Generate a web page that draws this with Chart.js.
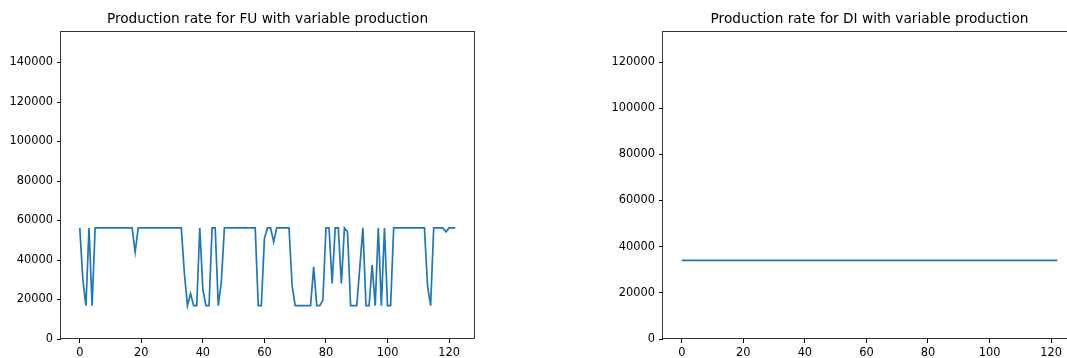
<!DOCTYPE html>
<html>
<head>
<meta charset="utf-8">
<script src="https://cdn.jsdelivr.net/npm/chart.js@4.4.1/dist/chart.umd.min.js"></script>
<style>
    html, body { margin: 0; padding: 0; overflow: hidden; background: #fff; }
    .panel { position: absolute; top: 0; height: 358px; }
    #fuBox { left: 0; width: 533px; }
    #diBox { left: 600px; width: 480px; }
</style>
</head>
<body>
<div class="panel" id="fuBox"><canvas id="fuChart"></canvas></div>
<div class="panel" id="diBox"><canvas id="diChart"></canvas></div>
<script>
// production rate per period, FU line (variable production)
const fuRate = [
    56250, 30000, 16875, 56250, 16875, 56250, 56250, 56250, 56250, 56250,
    56250, 56250, 56250, 56250, 56250, 56250, 56250, 56250, 44000, 56250,
    56250, 56250, 56250, 56250, 56250, 56250, 56250, 56250, 56250, 56250,
    56250, 56250, 56250, 56250, 33000, 16875, 23000, 16875, 16875, 56250,
    25000, 16875, 16875, 56250, 56250, 16875, 29000, 56250, 56250, 56250,
    56250, 56250, 56250, 56250, 56250, 56250, 56250, 56250, 16875, 16875,
    51000, 56250, 56250, 49200, 56250, 56250, 56250, 56250, 56250, 27000,
    16875, 16875, 16875, 16875, 16875, 16875, 36500, 16875, 16875, 19600,
    56250, 56250, 28125, 56250, 56250, 28125, 56250, 54300, 16875, 16875,
    16875, 36500, 56250, 16875, 16875, 37400, 16875, 56250, 16875, 56250,
    16875, 16875, 56250, 56250, 56250, 56250, 56250, 56250, 56250, 56250,
    56250, 56250, 56250, 27000, 16875, 56250, 56250, 56250, 56250, 54300,
    56250, 56250, 56250
];

// DI line stays flat over the whole horizon
const diRate = [
    34100, 34100, 34100, 34100, 34100, 34100, 34100, 34100, 34100, 34100,
    34100, 34100, 34100, 34100, 34100, 34100, 34100, 34100, 34100, 34100,
    34100, 34100, 34100, 34100, 34100, 34100, 34100, 34100, 34100, 34100,
    34100, 34100, 34100, 34100, 34100, 34100, 34100, 34100, 34100, 34100,
    34100, 34100, 34100, 34100, 34100, 34100, 34100, 34100, 34100, 34100,
    34100, 34100, 34100, 34100, 34100, 34100, 34100, 34100, 34100, 34100,
    34100, 34100, 34100, 34100, 34100, 34100, 34100, 34100, 34100, 34100,
    34100, 34100, 34100, 34100, 34100, 34100, 34100, 34100, 34100, 34100,
    34100, 34100, 34100, 34100, 34100, 34100, 34100, 34100, 34100, 34100,
    34100, 34100, 34100, 34100, 34100, 34100, 34100, 34100, 34100, 34100,
    34100, 34100, 34100, 34100, 34100, 34100, 34100, 34100, 34100, 34100,
    34100, 34100, 34100, 34100, 34100, 34100, 34100, 34100, 34100, 34100,
    34100, 34100, 34100
];

const xTicks = [0, 20, 40, 60, 80, 100, 120];
const fuTicks = [0, 20000, 40000, 60000, 80000, 100000, 120000, 140000];
const diTicks = [0, 20000, 40000, 60000, 80000, 100000, 120000];

const FONT = 'DejaVu Sans';

// matplotlib-style closed box around the plot area
const frame = {
    id: 'frame',
    afterDatasetsDraw(chart) {
        const a = chart.chartArea;
        const c = chart.ctx;
        c.save();
        c.strokeStyle = '#333';
        c.lineWidth = 1;
        c.strokeRect(Math.round(a.left) - 0.5, Math.round(a.top) + 0.5,
            Math.round(a.right - a.left) + 1, Math.round(a.bottom - a.top) - 1);
        c.restore();
    }
};

function axisTicks(values) {
    return scale => { scale.ticks = values.map(v => ({ value: v })); };
}

// plain numbers, no thousands separator
const plain = v => String(v);

function makeChart(id, title, values, yMax, yTicks, yWidth, padRight) {
    return new Chart(document.getElementById(id), {
        type: 'line',
        data: {
            datasets: [{
                data: values.map((v, i) => ({ x: i, y: v })),
                borderColor: '#1f77b4',
                borderWidth: 1.7,
                pointRadius: 0,
                tension: 0,
                fill: false
            }]
        },
        options: {
            responsive: true,
            maintainAspectRatio: false,
            animation: false,
            events: [],
            layout: { padding: { left: 0, right: padRight, top: 0, bottom: 0 } },
            plugins: {
                legend: { display: false },
                tooltip: { enabled: false },
                title: {
                    display: true,
                    text: title,
                    fullSize: false,
                    color: '#000',
                    font: { family: FONT, size: 13.7, weight: 'normal', lineHeight: 1.2 },
                    padding: { top: 11, bottom: 3.5 }
                }
            },
            scales: {
                x: {
                    type: 'linear',
                    min: -6.1,
                    max: 128.1,
                    afterBuildTicks: axisTicks(xTicks),
                    afterFit: s => { s.height = 19; },
                    border: { display: false },
                    grid: {
                        drawOnChartArea: false,
                        drawTicks: true,
                        tickLength: 4,
                        tickColor: '#000',
                        tickWidth: 1
                    },
                    ticks: {
                        color: '#000',
                        padding: 3,
                        maxRotation: 0,
                        autoSkip: false,
                        callback: plain,
                        font: { family: FONT, size: 11.4 }
                    }
                },
                y: {
                    min: 0,
                    max: yMax,
                    afterBuildTicks: axisTicks(yTicks),
                    afterFit: s => { s.width = yWidth; },
                    border: { display: false },
                    grid: {
                        drawOnChartArea: false,
                        drawTicks: true,
                        tickLength: 4,
                        tickColor: '#000',
                        tickWidth: 1
                    },
                    ticks: {
                        color: '#000',
                        padding: 4,
                        autoSkip: false,
                        callback: plain,
                        font: { family: FONT, size: 11.4 }
                    }
                }
            }
        },
        plugins: [frame]
    });
}

makeChart('fuChart', 'Production rate for FU with variable production',
    fuRate, 156000, fuTicks, 61, 59);
makeChart('diChart', 'Production rate for DI with variable production',
    diRate, 133500, diTicks, 63, 4);
</script>
</body>
</html>
